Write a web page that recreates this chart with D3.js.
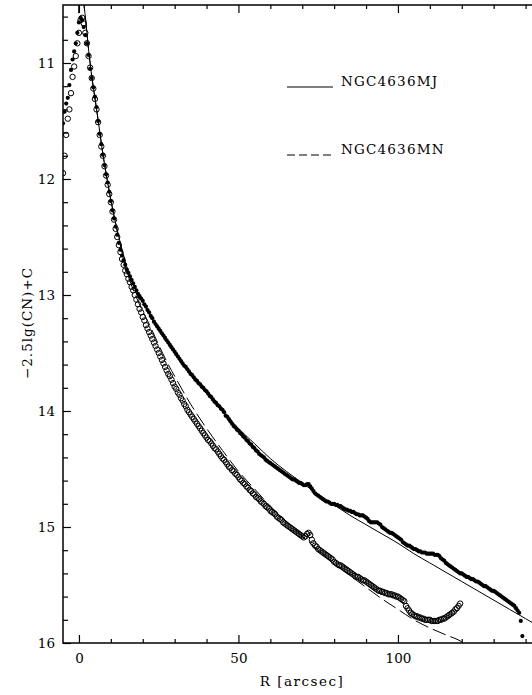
<!DOCTYPE html>
<html>
<head>
<meta charset="utf-8">
<script src="https://cdn.jsdelivr.net/npm/d3@7"></script>
<style>
  body { margin: 0; background: #fff; }
  text { font-family: "DejaVu Serif", serif; font-size: 13.5px; fill: #000; }
</style>
</head>
<body>
<div id="chart"></div>
<script>
'use strict';

// profile sampling: radius in arcsec, first point and step
const profileStart = -5;
const profileStep = 0.5;

// NGC4636MJ profile (filled dots), one value per 0.5 arcsec from R=-5
const mjValues = [
  11.52, 11.42, 11.35, 11.30, 11.19, 11.06, 10.97, 10.90, 10.83, 10.74,
  10.65, 10.61, 10.63, 10.69, 10.76, 10.83, 10.93, 11.05, 11.13, 11.21,
  11.29, 11.38, 11.50, 11.61, 11.70, 11.79, 11.88, 11.96, 12.03, 12.11,
  12.19, 12.27, 12.34, 12.41, 12.48, 12.55, 12.61, 12.66, 12.70, 12.74,
  12.78, 12.81, 12.84, 12.87, 12.90, 12.93, 12.96, 12.99, 13.01, 13.03,
  13.05, 13.08, 13.10, 13.13, 13.15, 13.18, 13.20, 13.23, 13.25, 13.27,
  13.29, 13.31, 13.33, 13.35, 13.37, 13.39, 13.41, 13.43, 13.45, 13.47,
  13.49, 13.51, 13.53, 13.55, 13.57, 13.59, 13.61, 13.62, 13.64, 13.66,
  13.68, 13.69, 13.71, 13.73, 13.74, 13.76, 13.77, 13.79, 13.80, 13.82,
  13.83, 13.85, 13.87, 13.88, 13.90, 13.92, 13.93, 13.95, 13.96, 13.98,
  13.99, 14.01, 14.04, 14.05, 14.07, 14.09, 14.11, 14.13, 14.14, 14.16,
  14.17, 14.19, 14.20, 14.22, 14.23, 14.25, 14.26, 14.28, 14.29, 14.31,
  14.32, 14.34, 14.35, 14.37, 14.38, 14.39, 14.40, 14.42, 14.43, 14.44,
  14.45, 14.46, 14.47, 14.48, 14.49, 14.50, 14.51, 14.52, 14.53, 14.54,
  14.55, 14.56, 14.57, 14.58, 14.59, 14.59, 14.60, 14.61, 14.62, 14.62,
  14.63, 14.64, 14.64, 14.63, 14.63, 14.65, 14.67, 14.69, 14.71, 14.72,
  14.73, 14.74, 14.75, 14.76, 14.77, 14.78, 14.78, 14.79, 14.80, 14.80,
  14.80, 14.81, 14.81, 14.82, 14.82, 14.83, 14.84, 14.85, 14.85, 14.86,
  14.86, 14.87, 14.87, 14.88, 14.89, 14.89, 14.90, 14.90, 14.90, 14.91,
  14.92, 14.93, 14.95, 14.96, 14.96, 14.96, 14.96, 14.96, 14.97, 14.98,
  15.00, 15.01, 15.02, 15.03, 15.04, 15.05, 15.05, 15.06, 15.07, 15.08,
  15.09, 15.10, 15.11, 15.13, 15.14, 15.15, 15.16, 15.16, 15.17, 15.18,
  15.19, 15.19, 15.20, 15.21, 15.21, 15.22, 15.22, 15.22, 15.23, 15.23,
  15.23, 15.23, 15.23, 15.24, 15.24, 15.24, 15.25, 15.27, 15.28, 15.29,
  15.31, 15.32, 15.33, 15.34, 15.35, 15.36, 15.37, 15.38, 15.39, 15.40,
  15.40, 15.41, 15.42, 15.43, 15.43, 15.44, 15.45, 15.45, 15.46, 15.47,
  15.47, 15.48, 15.49, 15.50, 15.51, 15.51, 15.52, 15.53, 15.54, 15.55,
  15.55, 15.56, 15.57, 15.58, 15.59, 15.60, 15.61, 15.62, 15.63, 15.64,
  15.65, 15.66, 15.67, 15.68, 15.70, 15.72, 15.74, 15.81, 15.94
];

// NGC4636MN profile (open circles), same sampling
const mnValues = [
  11.95, 11.80, 11.62, 11.48, 11.40, 11.26, 11.12, 11.03, 10.94, 10.83,
  10.74, 10.63, 10.61, 10.66, 10.74, 10.83, 10.94, 11.04, 11.13, 11.22,
  11.31, 11.40, 11.51, 11.62, 11.72, 11.80, 11.89, 11.97, 12.05, 12.13,
  12.20, 12.28, 12.35, 12.43, 12.50, 12.57, 12.63, 12.69, 12.74, 12.79,
  12.82, 12.86, 12.89, 12.93, 12.96, 13.00, 13.04, 13.08, 13.12, 13.15,
  13.19, 13.22, 13.26, 13.29, 13.32, 13.35, 13.38, 13.41, 13.44, 13.47,
  13.50, 13.53, 13.56, 13.59, 13.62, 13.65, 13.68, 13.70, 13.73, 13.76,
  13.79, 13.81, 13.84, 13.86, 13.89, 13.91, 13.94, 13.96, 13.99, 14.01,
  14.03, 14.05, 14.07, 14.09, 14.11, 14.13, 14.15, 14.17, 14.19, 14.21,
  14.23, 14.25, 14.26, 14.28, 14.30, 14.32, 14.33, 14.35, 14.37, 14.39,
  14.41, 14.42, 14.44, 14.46, 14.48, 14.49, 14.51, 14.52, 14.54, 14.55,
  14.57, 14.59, 14.60, 14.62, 14.63, 14.65, 14.66, 14.68, 14.69, 14.71,
  14.72, 14.74, 14.75, 14.76, 14.78, 14.79, 14.80, 14.82, 14.83, 14.84,
  14.86, 14.87, 14.88, 14.89, 14.91, 14.92, 14.93, 14.94, 14.96, 14.97,
  14.98, 14.99, 15.00, 15.01, 15.02, 15.03, 15.04, 15.05, 15.06, 15.07,
  15.08, 15.09, 15.08, 15.06, 15.05, 15.07, 15.11, 15.14, 15.16, 15.17,
  15.19, 15.20, 15.21, 15.22, 15.23, 15.24, 15.25, 15.26, 15.27, 15.28,
  15.30, 15.31, 15.32, 15.33, 15.33, 15.34, 15.35, 15.36, 15.37, 15.38,
  15.39, 15.40, 15.41, 15.42, 15.43, 15.43, 15.44, 15.45, 15.46, 15.46,
  15.47, 15.48, 15.49, 15.50, 15.51, 15.52, 15.53, 15.54, 15.55, 15.55,
  15.56, 15.56, 15.57, 15.57, 15.58, 15.58, 15.58, 15.59, 15.59, 15.60,
  15.60, 15.61, 15.62, 15.63, 15.64, 15.68, 15.70, 15.72, 15.74, 15.75,
  15.76, 15.77, 15.77, 15.78, 15.78, 15.79, 15.79, 15.80, 15.80, 15.80,
  15.80, 15.81, 15.81, 15.81, 15.81, 15.81, 15.80, 15.80, 15.79, 15.79,
  15.78, 15.77, 15.76, 15.75, 15.74, 15.73, 15.71, 15.70, 15.68, 15.66
];

// model fits
const modelMJR = [0, 0.2, 1.6, 2, 2.5, 3, 4, 5, 6, 7, 8, 9, 10, 12, 14, 16, 18, 20, 25, 30,
  35, 40, 45, 50, 55, 60, 65, 70, 75, 80, 85, 90, 95, 100, 105, 110, 115, 120, 125, 130, 135, 140, 145];
const modelMJ = [10.57, 9.6, 10.5, 10.6, 10.74, 10.88, 11.11, 11.30, 11.49, 11.69, 11.87, 12.03, 12.18,
  12.44, 12.66, 12.84, 12.96, 13.06, 13.30, 13.50, 13.69, 13.85, 14.00, 14.15, 14.28, 14.41, 14.52,
  14.62, 14.72, 14.81, 14.90, 14.98, 15.06, 15.14, 15.23, 15.31, 15.39, 15.47, 15.55, 15.63, 15.71,
  15.79, 15.87];

const modelMNR = [0, 0.2, 1.6, 2, 2.5, 3, 4, 5, 6, 7, 8, 9, 10, 12, 14, 16, 18, 20, 22, 25, 28, 30,
  35, 40, 45, 50, 55, 60, 65, 70, 75, 80, 85, 90, 95, 100, 105, 110, 115, 120, 122];
const modelMN = [10.57, 9.6, 10.5, 10.6, 10.74, 10.88, 11.11, 11.30, 11.49, 11.69, 11.87, 12.03, 12.18,
  12.45, 12.69, 12.88, 13.02, 13.14, 13.25, 13.43, 13.60, 13.70, 13.94, 14.15, 14.34, 14.52, 14.67,
  14.82, 14.95, 15.08, 15.20, 15.32, 15.42, 15.52, 15.62, 15.71, 15.80, 15.87, 15.93, 15.99, 16.03];

const xMajor = [0, 50, 100];
const xMinor = [10, 20, 30, 40, 60, 70, 80, 90, 110, 120, 130, 140];
const yMajor = [11, 12, 13, 14, 15, 16];
const yMinor = [10.6, 10.8, 11.2, 11.4, 11.6, 11.8, 12.2, 12.4, 12.6, 12.8, 13.2, 13.4, 13.6, 13.8,
  14.2, 14.4, 14.6, 14.8, 15.2, 15.4, 15.6, 15.8];

const legendNames = ['NGC4636MJ', 'NGC4636MN'];

const width = 532;
const height = 695;
const plot = { left: 63, top: 5, right: 541.5, bottom: 643 };

const x = d3.scaleLinear().domain([-5, 145]).range([plot.left, plot.right]);
const y = d3.scaleLinear().domain([10.5, 16]).range([plot.top, plot.bottom]);

const toPoints = vals => vals.map((m, i) => ({ r: profileStart + i * profileStep, m: m }));
const mjData = toPoints(mjValues);
const mnData = toPoints(mnValues);

const svg = d3.select('#chart').append('svg')
  .attr('width', width)
  .attr('height', height);

svg.append('defs').append('clipPath').attr('id', 'clip')
  .append('rect')
  .attr('x', plot.left).attr('y', plot.top)
  .attr('width', plot.right - plot.left).attr('height', plot.bottom - plot.top);

const body = svg.append('g').attr('clip-path', 'url(#clip)');

const line = d3.line()
  .x(d => x(d[0]))
  .y(d => y(d[1]))
  .curve(d3.curveMonotoneX);

// model curves
body.append('path')
  .datum(d3.zip(modelMJR, modelMJ))
  .attr('d', line)
  .attr('fill', 'none')
  .attr('stroke', '#000')
  .attr('stroke-width', 1);

body.append('path')
  .datum(d3.zip(modelMNR, modelMN))
  .attr('d', line)
  .attr('fill', 'none')
  .attr('stroke', '#000')
  .attr('stroke-width', 1)
  .attr('stroke-dasharray', '14,5');

// open circles
body.append('g').selectAll('circle')
  .data(mnData)
  .join('circle')
  .attr('cx', d => x(d.r))
  .attr('cy', d => y(d.m))
  .attr('r', 2.7)
  .attr('fill', 'none')
  .attr('stroke', '#000')
  .attr('stroke-width', 1);

// filled dots
body.append('g').selectAll('circle')
  .data(mjData)
  .join('circle')
  .attr('cx', d => x(d.r))
  .attr('cy', d => y(d.m))
  .attr('r', 2.1)
  .attr('fill', '#000');

// axes, ticks pointing inward
const axes = svg.append('g');

const styleAxis = g => {
  g.select('.domain').remove();
  g.selectAll('line').attr('stroke', '#000').attr('stroke-width', 1.2);
  g.selectAll('text').attr('font-family', null).attr('font-size', null);
};

axes.append('g')
  .attr('transform', `translate(0,${plot.bottom})`)
  .call(d3.axisBottom(x).tickValues(xMajor).tickSize(-8).tickPadding(10).tickFormat(d3.format('d')))
  .call(styleAxis);
axes.append('g')
  .attr('transform', `translate(0,${plot.bottom})`)
  .call(d3.axisBottom(x).tickValues(xMinor).tickSize(-4).tickFormat(''))
  .call(styleAxis);
axes.append('g')
  .attr('transform', `translate(0,${plot.top})`)
  .call(d3.axisTop(x).tickValues(xMajor).tickSize(-8).tickFormat(''))
  .call(styleAxis);
axes.append('g')
  .attr('transform', `translate(0,${plot.top})`)
  .call(d3.axisTop(x).tickValues(xMinor).tickSize(-4).tickFormat(''))
  .call(styleAxis);
axes.append('g')
  .attr('transform', `translate(${plot.left},0)`)
  .call(d3.axisLeft(y).tickValues(yMajor).tickSize(-8).tickPadding(8).tickFormat(d3.format('d')))
  .call(styleAxis);
axes.append('g')
  .attr('transform', `translate(${plot.left},0)`)
  .call(d3.axisLeft(y).tickValues(yMinor).tickSize(-5).tickFormat(''))
  .call(styleAxis);

// frame
axes.append('rect')
  .attr('x', plot.left).attr('y', plot.top)
  .attr('width', plot.right - plot.left).attr('height', plot.bottom - plot.top)
  .attr('fill', 'none')
  .attr('stroke', '#000')
  .attr('stroke-width', 1.5);

// axis titles
svg.append('text')
  .attr('x', 302)
  .attr('y', 686)
  .attr('text-anchor', 'middle')
  .style('letter-spacing', '1.5px')
  .text('R [arcsec]');

svg.append('text')
  .attr('transform', 'translate(32,323) rotate(-90)')
  .attr('text-anchor', 'middle')
  .style('letter-spacing', '1px')
  .text('\u22122.5lg(CN)+C');

// legend
const legend = svg.append('g').attr('transform', 'translate(287,0)');
const legendY = [87, 155];
legendNames.forEach((name, i) => {
  legend.append('line')
    .attr('x1', 0).attr('x2', 46)
    .attr('y1', legendY[i]).attr('y2', legendY[i])
    .attr('stroke', '#000')
    .attr('stroke-width', 1)
    .attr('stroke-dasharray', i === 1 ? '8,4' : null);
  legend.append('text')
    .attr('x', 54)
    .attr('y', legendY[i] - 1)
    .style('letter-spacing', '1.2px')
    .text(name);
});
</script>
</body>
</html>
